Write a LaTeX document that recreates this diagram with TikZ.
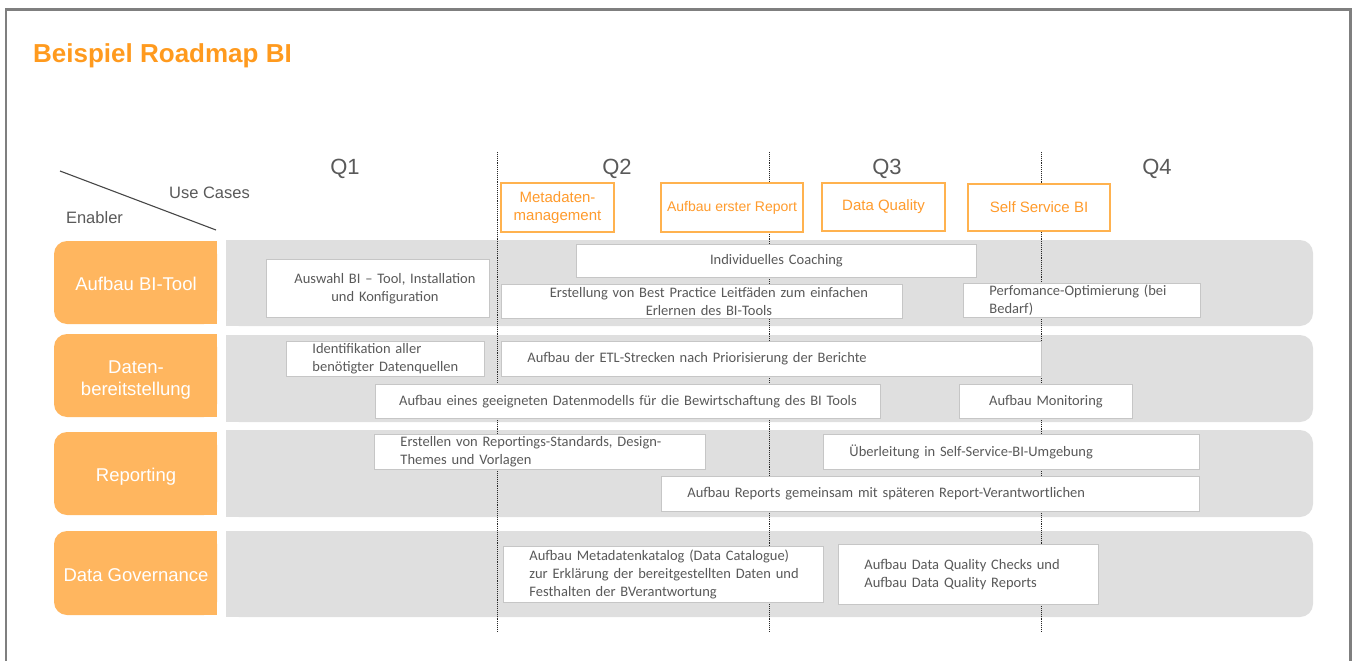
\documentclass[tikz,border=0pt]{standalone}
\usepackage{fontspec}
\setmainfont{Liberation Sans}
\newfontfamily\taskfont{Carlito}
\definecolor{frameGray}{HTML}{7F7F7F}
\definecolor{titleOrange}{HTML}{FF9A1E}
\definecolor{enablerOrange}{HTML}{FFB65F}
\definecolor{ucLine}{HTML}{FFB24F}
\definecolor{ucText}{HTML}{FF9B2C}
\definecolor{laneGray}{HTML}{DFDFDF}
\definecolor{taskLine}{HTML}{C6C6C6}
\definecolor{textGray}{HTML}{595959}
\tikzset{
  frame/.style={draw=frameGray, line width=2.5pt},
  title/.style={text=titleOrange, font=\bfseries\fontsize{26}{30}\selectfont, inner sep=0pt},
  quarter/.style={text=textGray, font=\fontsize{22}{26}\selectfont, anchor=base, inner sep=0pt},
  corner/.style={text=textGray, font=\fontsize{16.5}{20}\selectfont, anchor=base, inner sep=0pt},
  enabler/.style={text=white, font=\fontsize{18.5}{22}\selectfont, align=center, inner sep=0pt},
  usecase/.style={draw=ucLine, line width=1.2pt, fill=white, text=ucText, font=\fontsize{15}{18}\selectfont, align=center, inner sep=0pt},
  task/.style={draw=taskLine, line width=0.9pt, fill=white, text=textGray, font=\taskfont\fontsize{14.5}{18}\selectfont, anchor=north west, inner ysep=0pt},
  taskl/.style={task, inner xsep=26pt, align=left},
  taskc/.style={task, inner xsep=4pt, align=center},
  quartergrid/.style={densely dotted, line width=0.9pt, black!85}
}

\begin{document}
\begin{tikzpicture}[x=1pt,y=-1pt]
\useasboundingbox (0,0) rectangle (1352,661);
\draw[frame] (6,661) -- (6,9.5) -- (1350.5,9.5) -- (1350.5,661);

\node[title, anchor=base west] (title) at (33,63) {Beispiel Roadmap BI};

\coordinate (slashA) at (60,171);
\coordinate (slashB) at (216,230);
\draw[textGray!80!black, line width=1.1pt] (slashA) -- (slashB);
\node[corner] (usecases) at (209.5,198) {Use Cases};
\node[corner] (enablers) at (94.5,223) {Enabler};

\foreach \q/\x in {1/345,2/617,3/887,4/1157}
  \node[quarter] (q\q) at (\x,174) {Q\q};

\foreach \t/\b in {240/326,335/422,430/517,531/617} {
  \fill[laneGray, rounded corners=13pt] (226,\t) rectangle (1313,\b);
  \fill[laneGray] (226,\t) rectangle (1250,\b);
}
\foreach \t/\b in {241/324,334/417,432/515,531/615} {
  \fill[enablerOrange, rounded corners=13pt] (54,\t) rectangle (217,\b);
  \fill[enablerOrange] (120,\t) rectangle (217,\b);
}

\foreach \x in {497,769,1041}
  \draw[quartergrid] (\x,152) -- (\x,632);

\node[enabler] (enTool) at (136,284) {Aufbau BI-Tool};
\node[enabler] (enDaten) at (136,380) {Daten-\\bereitstellung};
\node[enabler] (enReporting) at (136,477) {Reporting};
\node[enabler] (enGovernance) at (136,575) {Data Governance};

\node[usecase, minimum width=113pt, minimum height=49pt] (ucMeta) at (557.5,207.5) {Metadaten-\\management};
\node[usecase, minimum width=142pt, minimum height=49pt, font=\fontsize{14}{18}\selectfont] (ucReport) at (732,207.5) {Aufbau erster Report};
\node[usecase, minimum width=123pt, minimum height=48pt] (ucQuality) at (883.5,207) {Data Quality};
\node[usecase, minimum width=142pt, minimum height=47pt] (ucSelf) at (1039,207.5) {Self Service BI};

\node[taskc, minimum width=223pt, minimum height=58pt, text width=215pt] (tAuswahl) at (266,259) {\hspace*{14pt}Auswahl BI – Tool, Installation\\\hspace*{14pt}und Konfiguration};
\node[taskc, minimum width=400pt, minimum height=33pt, text width=392pt] (tCoaching) at (576,244) {Individuelles Coaching};
\node[taskc, minimum width=401pt, minimum height=34pt, text width=393pt] (tLeitfaden) at (501,284) {\hspace*{14pt}Erstellung von Best Practice Leitfäden zum einfachen\\\hspace*{14pt}Erlernen des BI-Tools};
\node[taskl, minimum width=237pt, minimum height=34pt, text width=185pt] (tPerformance) at (963,283) {Perfomance-Optimierung (bei\\Bedarf)};

\node[taskl, minimum width=198pt, minimum height=35pt, text width=146pt] (tQuellen) at (286,341) {Identifikation aller\\benötigter Datenquellen};
\node[taskl, minimum width=540pt, minimum height=35pt, text width=488pt] (tETL) at (501,341) {Aufbau der ETL-Strecken nach Priorisierung der Berichte};
\node[taskc, minimum width=505pt, minimum height=34pt, text width=497pt] (tModell) at (375,384) {Aufbau eines geeigneten Datenmodells für die Bewirtschaftung des BI Tools};
\node[taskc, minimum width=173pt, minimum height=34pt, text width=165pt] (tMonitoring) at (959,384) {Aufbau Monitoring};

\node[taskl, minimum width=331pt, minimum height=35pt, text width=279pt] (tStandards) at (374,434) {Erstellen von Reportings-Standards, Design-\\Themes und Vorlagen};
\node[taskl, minimum width=376pt, minimum height=35pt, text width=324pt] (tSelfService) at (823,434) {Überleitung in Self-Service-BI-Umgebung};
\node[taskl, minimum width=538pt, minimum height=35pt, text width=486pt] (tReports) at (661,476) {Aufbau Reports gemeinsam mit späteren Report-Verantwortlichen};

\node[taskl, inner xsep=22pt, minimum width=320pt, minimum height=56pt, text width=276pt] (tKatalog) at (503,546) {\hspace*{4pt}Aufbau Metadatenkatalog (Data Catalogue)\\\hspace*{4pt}zur Erklärung der bereitgestellten Daten und\\\hspace*{4pt}Festhalten der BVerantwortung};
\node[taskl, minimum width=260pt, minimum height=60pt, text width=208pt] (tChecks) at (838,544) {Aufbau Data Quality Checks und\\Aufbau Data Quality Reports};
\end{tikzpicture}
\end{document}
